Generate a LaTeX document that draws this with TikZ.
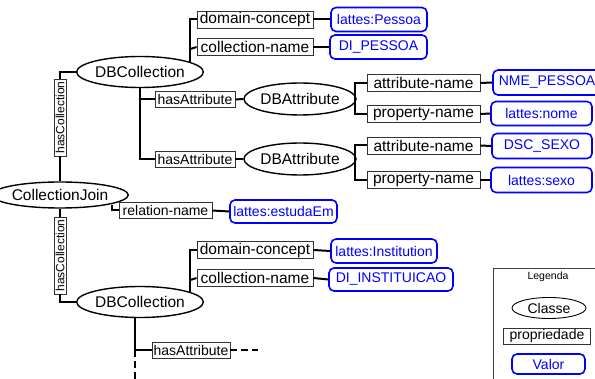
\documentclass[tikz,border=0pt]{standalone}
\usepackage{fontspec}
\setmainfont{Liberation Sans}
\usetikzlibrary{shapes.geometric,calc}
\begin{document}
\begin{tikzpicture}[x=1pt,y=-1pt,
 cls/.style={ellipse,draw,line width=1.4pt,inner sep=0pt,minimum width=105pt,minimum height=31pt,font=\fontsize{15.5}{18}\selectfont},
 prop/.style={rectangle,draw=black!80,line width=0.9pt,inner sep=0pt,minimum height=17pt,font=\fontsize{15.5}{18}\selectfont},
 sprop/.style={prop,font=\fontsize{14}{16}\selectfont,minimum height=16pt},
 vprop/.style={prop,rotate=90,font=\fontsize{12}{14}\selectfont,minimum width=77pt,minimum height=12pt},
 val/.style={rectangle,rounded corners=5pt,draw=blue,line width=1.6pt,text=blue,inner sep=0pt,minimum height=24pt,font=\fontsize{14}{16}\selectfont},
 conn/.style={line width=2pt},
 dconn/.style={conn,dash pattern=on 7pt off 4pt},
]
\useasboundingbox (0,0) rectangle (595,379);
\clip (0,0) rectangle (595,379);

% classes
\node[cls] (DBC1) at (140,72) {DBCollection};
\node[cls,minimum width=109pt,minimum height=26pt] (CJ) at (60,195) {CollectionJoin};
\node[cls] (DBC2) at (140,302) {DBCollection};
\node[cls,minimum width=104pt,minimum height=32pt] (DBA1) at (300,99) {DBAttribute};
\node[cls,minimum width=104pt,minimum height=32pt] (DBA2) at (300,159) {DBAttribute};

% properties
\node[vprop] (hc1) at (60,117.5) {hasCollection};
\node[vprop] (hc2) at (60,255.5) {hasCollection};
\node[prop,minimum width=116pt] (dc1) at (255,19.5) {domain-concept};
\node[prop,minimum width=116pt] (cn1) at (255,47) {collection-name};
\node[sprop,minimum width=80pt] (ha1) at (195,99.5) {hasAttribute};
\node[sprop,minimum width=80pt] (ha2) at (195,159) {hasAttribute};
\node[prop,minimum width=113pt] (an1) at (423.5,83) {attribute-name};
\node[prop,minimum width=113pt] (pn1) at (423.5,114) {property-name};
\node[prop,minimum width=113pt] (an2) at (423.5,145.5) {attribute-name};
\node[prop,minimum width=113pt] (pn2) at (423.5,180) {property-name};
\node[sprop,minimum width=93pt] (rn) at (165.5,210.5) {relation-name};
\node[prop,minimum width=116pt] (dc2) at (255,250) {domain-concept};
\node[prop,minimum width=116pt] (cn2) at (255,278) {collection-name};
\node[sprop,minimum width=78pt] (ha3) at (191,350.5) {hasAttribute};

% values
\node[val,minimum width=96pt] (v1) at (379,19.5) {lattes:Pessoa};
\node[val,minimum width=97pt] (v2) at (378.5,47) {DI\_PESSOA};
\node[val,minimum width=108pt,minimum height=25pt] (v3) at (547,82.5) {NME\_PESSOA};
\node[val,minimum width=101pt] (v4) at (541.5,113.5) {lattes:nome};
\node[val,minimum width=100pt,minimum height=25pt] (v5) at (542,146) {DSC\_SEXO};
\node[val,minimum width=101pt,minimum height=25pt] (v6) at (541.5,180) {lattes:sexo};
\node[val,minimum width=107pt,minimum height=23pt] (v7) at (283.5,211.5) {lattes:estudaEm};
\node[val,minimum width=106pt] (v8) at (384,251) {lattes:Institution};
\node[val,minimum width=124pt,minimum height=23pt] (v9) at (391,279.5) {DI\_INSTITUICAO};

% connectors: upper collection
\draw[conn] (DBC1.west) -| (hc1.east);
\draw[conn] (hc1.west) -- (CJ.north);
\draw[conn] (dc1.west) -| ([shift={(5,2)}]DBC1.north east);
\draw[conn] ([shift={(5,2)}]DBC1.north east |- cn1.west) -- (cn1.west);
\draw[conn] (dc1.east) -- (v1.west);
\draw[conn] (cn1.east) -- (v2.west);
\draw[conn] (DBC1.south) |- (ha2.west);
\draw[conn] (DBC1.south |- ha1.west) -- (ha1.west);
\draw[conn] (ha1.east) -- (DBA1.west);
\draw[conn] (ha2.east) -- (DBA2.west);
\draw[conn] (an1.west) -| ([xshift=-2]DBA1.east) |- (pn1.west);
\draw[conn] (an2.west) -| ([xshift=-2]DBA2.east) |- (pn2.west);
\draw[conn] (an1.east) -- (v3.west);
\draw[conn] (pn1.east) -- (v4.west);
\draw[conn] (an2.east) -- (v5.west);
\draw[conn] (pn2.east) -- (v6.west);

% join
\draw[conn] ([xshift=3]CJ.south east) |- (rn.west);
\draw[conn] (rn.east) -- (v7.west);
\draw[conn] (CJ.south) -- (hc2.east);
\draw[conn] (hc2.west) |- (DBC2.west);

% lower collection
\draw[conn] (dc2.west) -| ([shift={(5,2)}]DBC2.north east);
\draw[conn] ([shift={(5,2)}]DBC2.north east |- cn2.west) -- (cn2.west);
\draw[conn] (dc2.east) -- (v8.west);
\draw[conn] (cn2.east) -- (v9.west);
\coordinate (b3) at ([xshift=-5]DBC2.south);
\coordinate (e3) at (135,382);
\coordinate (e4) at ([xshift=28]ha3.east);
\draw[conn] (b3) |- (ha3.west);
\draw[dconn] (b3 |- ha3.west) -- (e3);
\draw[dconn] (ha3.east) -- (e4);

% legend
\node[draw=black!75,line width=0.8pt,anchor=north west,minimum width=110pt,minimum height=120pt,inner sep=0pt] (leg) at (493,268) {};
\node[font=\fontsize{10.5}{12}\selectfont] (legt) at (548,277) {Legenda};
\node[cls,line width=0.9pt,minimum width=74pt,minimum height=21pt,font=\fontsize{14}{16}\selectfont] (lc) at (549,308) {Classe};
\node[sprop,minimum width=87pt] (lp) at (547,336) {propriedade};
\node[val,minimum width=73pt,minimum height=20pt] (lv) at (548.5,364) {Valor};
\end{tikzpicture}
\end{document}
